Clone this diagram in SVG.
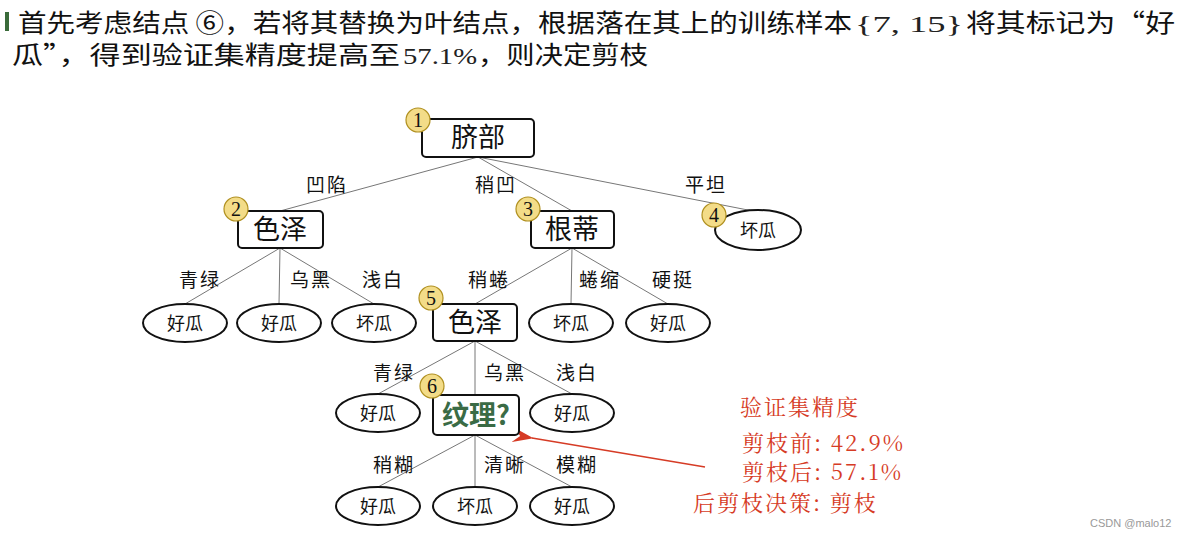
<svg xmlns="http://www.w3.org/2000/svg" width="1183" height="536" viewBox="0 0 1183 536">
<style>
.t{font-family:"Noto Sans CJK SC",sans-serif;font-size:25px;fill:#111}
.m{font-family:"Liberation Serif",serif;font-size:24px;fill:#222}
.box{fill:#fff;stroke:#111;stroke-width:2}
.bt{font-family:"Noto Sans CJK SC",sans-serif;font-size:27px;text-anchor:middle;fill:#111}
.lt{font-family:"Noto Sans CJK SC",sans-serif;font-size:19px;text-anchor:middle;fill:#111;letter-spacing:2px}
.el{font-family:"Noto Sans CJK SC",sans-serif;font-size:18px;text-anchor:middle;fill:#111}
.bd{fill:#f3dc88;stroke:#b09020;stroke-width:1.2}
.bn{font-family:"Liberation Serif",serif;font-size:20px;text-anchor:middle;fill:#111}
.ln{stroke:#777;stroke-width:1;fill:none}
.r{font-family:"Noto Serif CJK SC","Noto Sans CJK SC",serif;font-size:22px;fill:#d63b25;letter-spacing:2px}
</style>
<defs><marker id="ah" markerWidth="14" markerHeight="10" refX="1" refY="5" orient="auto"><path d="M14,0 L0,5 L14,10 L9,5 Z" fill="#d63b25"/></marker></defs>
<rect x="5" y="12" width="4" height="19" fill="#3a6b3a"/>
<text class="t" x="18" y="32" textLength="834" lengthAdjust="spacingAndGlyphs">首先考虑结点 ⑥，若将其替换为叶结点，根据落在其上的训练样本</text>
<text class="m" x="855" y="32" textLength="108" lengthAdjust="spacingAndGlyphs">{7, 15}</text>
<text class="t" x="966" y="32" textLength="209" lengthAdjust="spacingAndGlyphs">将其标记为“好</text>
<text class="t" x="12" y="64" textLength="388" lengthAdjust="spacingAndGlyphs">瓜”，得到验证集精度提高至</text>
<text class="m" x="403" y="64" textLength="74" lengthAdjust="spacingAndGlyphs">57.1%</text>
<text class="t" x="478" y="64" textLength="170" lengthAdjust="spacingAndGlyphs">，则决定剪枝</text>
<g id="connectors">
<path class="ln" d="M478,157L280,211M478,157L572,211M478,157L758,212"/>
<path class="ln" d="M280,248L185,304M280,248L279,304M280,248L374,304"/>
<path class="ln" d="M572,248L475,304M572,248L571,304M572,248L668,304"/>
<path class="ln" d="M475,341L378,394M475,341L475,395M475,341L572,394"/>
<path class="ln" d="M475,435L378,487M475,435L475,487M475,435L572,487"/>
<line x1="705" y1="467" x2="532" y2="438" stroke="#d63b25" stroke-width="1.5" marker-end="url(#ah)"/>
<g class="lt">
<text x="327" y="192">凹陷</text><text x="496" y="192">稍凹</text><text x="706" y="192">平坦</text>
<text x="200" y="287">青绿</text><text x="311" y="287">乌黑</text><text x="383" y="287">浅白</text>
<text x="489" y="287">稍蜷</text><text x="600" y="287">蜷缩</text><text x="673" y="287">硬挺</text>
<text x="394" y="380">青绿</text><text x="505" y="380">乌黑</text><text x="577" y="380">浅白</text>
<text x="394" y="472">稍糊</text><text x="505" y="472">清晰</text><text x="577" y="472">模糊</text>
</g>
</g>
<g id="n1"><rect class="box" x="422" y="119" width="112" height="38" rx="4"/><text class="bt" x="478" y="147">脐部</text><circle class="bd" cx="418" cy="120" r="12"/><text class="bn" x="418" y="127">1</text></g>
<g id="n2"><rect class="box" x="238" y="211" width="85" height="37" rx="4"/><text class="bt" x="280" y="239">色泽</text><circle class="bd" cx="236" cy="209" r="12"/><text class="bn" x="236" y="216">2</text></g>
<g id="n3"><rect class="box" x="531" y="211" width="83" height="37" rx="4"/><text class="bt" x="572" y="239">根蒂</text><circle class="bd" cx="528" cy="209" r="12"/><text class="bn" x="528" y="216">3</text></g>
<g id="n4"><ellipse class="box" cx="758" cy="230" rx="43" ry="20"/><text class="el" x="758" y="237">坏瓜</text><circle class="bd" cx="714" cy="215" r="12"/><text class="bn" x="714" y="222">4</text></g>
<g id="l21"><ellipse class="box" cx="185" cy="323" rx="42" ry="19"/><text class="el" x="185" y="330">好瓜</text></g>
<g id="l22"><ellipse class="box" cx="279" cy="323" rx="42" ry="19"/><text class="el" x="279" y="330">好瓜</text></g>
<g id="l23"><ellipse class="box" cx="374" cy="323" rx="42" ry="19"/><text class="el" x="374" y="330">坏瓜</text></g>
<g id="n5"><rect class="box" x="433" y="304" width="84" height="37" rx="4"/><text class="bt" x="475" y="332">色泽</text><circle class="bd" cx="431" cy="298" r="12"/><text class="bn" x="431" y="305">5</text></g>
<g id="l32"><ellipse class="box" cx="571" cy="323" rx="42" ry="19"/><text class="el" x="571" y="330">坏瓜</text></g>
<g id="l33"><ellipse class="box" cx="668" cy="323" rx="42" ry="19"/><text class="el" x="668" y="330">好瓜</text></g>
<g id="l51"><ellipse class="box" cx="378" cy="413" rx="42" ry="19"/><text class="el" x="378" y="420">好瓜</text></g>
<g id="n6"><rect class="box" x="433" y="395" width="86" height="40" rx="4"/><text class="bt" x="476" y="425" style="fill:#3a6b45;font-weight:bold">纹理?</text><circle class="bd" cx="432" cy="386" r="12"/><text class="bn" x="432" y="393">6</text></g>
<g id="l53"><ellipse class="box" cx="572" cy="413" rx="42" ry="19"/><text class="el" x="572" y="420">好瓜</text></g>
<g id="l61"><ellipse class="box" cx="378" cy="506" rx="42" ry="19"/><text class="el" x="378" y="513">好瓜</text></g>
<g id="l62"><ellipse class="box" cx="475" cy="506" rx="42" ry="19"/><text class="el" x="475" y="513">坏瓜</text></g>
<g id="l63"><ellipse class="box" cx="572" cy="506" rx="42" ry="19"/><text class="el" x="572" y="513">好瓜</text></g>
<g id="note">
<text class="r" x="740" y="415">验证集精度</text>
<text class="r" x="742" y="451">剪枝前: 42.9%</text>
<text class="r" x="742" y="480">剪枝后: 57.1%</text>
<text class="r" x="693" y="511">后剪枝决策: 剪枝</text>
</g>
<text x="1090" y="527" style="font-family:'Liberation Sans',sans-serif;font-size:11px;fill:#999">CSDN @malo12</text>
</svg>
